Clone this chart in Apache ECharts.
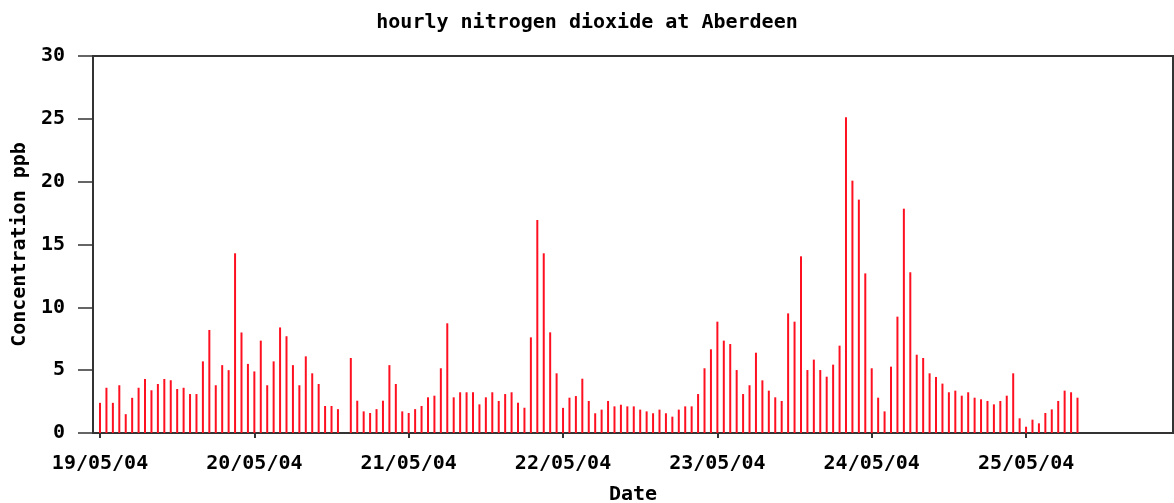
<!DOCTYPE html>
<html>
<head>
<meta charset="utf-8">
<title>hourly nitrogen dioxide at Aberdeen</title>
<script src="https://cdn.jsdelivr.net/npm/echarts@6/dist/echarts.min.js"></script>
<style>
    html, body { margin: 0; padding: 0; background: #fff; }
    #chart { width: 1174px; height: 503px; }
</style>
</head>
<body>
<div id="chart"></div>
<script>
// hours counted from 19/05/04 00:00
const dayTicks = [0, 24, 48, 72, 96, 120, 144];
const dayLabels = ['19/05/04', '20/05/04', '21/05/04', '22/05/04', '23/05/04', '24/05/04', '25/05/04'];
const yTicks = [0, 5, 10, 15, 20, 25, 30];

// hourly NO2 (ppb), one array per day
const day19 = [2.4, 3.6, 2.4, 3.8, 1.5, 2.8, 3.6, 4.3, 3.4, 3.9, 4.3, 4.2, 3.5, 3.6, 3.1, 3.1, 5.7, 8.2, 3.8, 5.4, 5.0, 14.3, 8.0, 5.5];
const day20 = [4.9, 7.35, 3.8, 5.7, 8.4, 7.7, 5.4, 3.8, 6.1, 4.75, 3.9, 2.15, 2.15, 1.9, 0, 5.97, 2.57, 1.72, 1.59, 1.9, 2.57, 5.4, 3.9, 1.72];
const day21 = [1.59, 1.9, 2.15, 2.84, 2.97, 5.15, 8.73, 2.84, 3.24, 3.24, 3.24, 2.28, 2.84, 3.24, 2.55, 3.1, 3.24, 2.41, 2.01, 7.61, 16.95, 14.3, 8.01, 4.75];
const day22 = [2.0, 2.81, 2.94, 4.32, 2.55, 1.57, 1.86, 2.55, 2.12, 2.25, 2.12, 2.12, 1.86, 1.72, 1.57, 1.86, 1.57, 1.3, 1.86, 2.12, 2.12, 3.1, 5.15, 6.66];
const day23 = [8.86, 7.35, 7.08, 5.01, 3.1, 3.8, 6.39, 4.19, 3.37, 2.84, 2.55, 9.52, 8.86, 14.06, 5.01, 5.84, 5.01, 4.48, 5.44, 6.95, 25.12, 20.08, 18.57, 12.7];
const day24 = [5.15, 2.81, 1.72, 5.28, 9.26, 17.85, 12.79, 6.23, 5.97, 4.75, 4.46, 3.93, 3.24, 3.37, 2.97, 3.24, 2.81, 2.68, 2.55, 2.28, 2.55, 2.97, 4.75, 1.17];
const day25 = [0.5, 1.06, 0.77, 1.59, 1.88, 2.55, 3.37, 3.24, 2.81];

(function () {
    let values = [].concat(day19, day20, day21, day22, day23, day24, day25);
    let data = values.map(function (v, i) { return [i, v]; });

    let font = 'DejaVu Sans Mono';
    let myChart = echarts.init(document.getElementById('chart'));
    let option = {
        animation: false,
        title: {
            text: 'hourly nitrogen dioxide at Aberdeen',
            left: 'center',
            top: 8,
            textStyle: { fontFamily: font, fontSize: 20, fontWeight: 'bold', color: '#000' }
        },
        grid: {
            left: 93,
            top: 56,
            right: 1,
            bottom: 70,
            outerBoundsMode: 'none',  // v6: keep the grid where it is put
            show: true,
            borderColor: '#333',
            borderWidth: 2
        },
        xAxis: {
            type: 'value',
            min: -1.09,
            max: 166.85,
            name: 'Date',
            nameLocation: 'middle',
            nameGap: 52,
            nameTextStyle: { fontFamily: font, fontSize: 20, fontWeight: 'bold', color: '#000' },
            splitLine: { show: false },
            axisLine: { onZero: false, lineStyle: { color: '#333', width: 2 } },
            axisTick: { customValues: dayTicks, length: 5, lineStyle: { color: '#333', width: 2 } },
            axisLabel: {
                customValues: dayTicks,
                margin: 21,
                fontFamily: font, fontSize: 20, fontWeight: 'bold', color: '#000',
                formatter: function (v) { return dayLabels[dayTicks.indexOf(v)]; }
            }
        },
        yAxis: {
            type: 'value',
            min: yTicks[0],
            max: yTicks[yTicks.length - 1],
            interval: 5,
            name: 'Concentration ppb',
            nameLocation: 'middle',
            nameGap: 62,
            nameTextStyle: { fontFamily: font, fontSize: 20, fontWeight: 'bold', color: '#000' },
            splitLine: { show: false },
            axisLine: { onZero: false, lineStyle: { color: '#333', width: 2 } },
            axisTick: { length: 15, lineStyle: { color: '#333', width: 1.5 } },
            axisLabel: { margin: 28, fontFamily: font, fontSize: 20, fontWeight: 'bold', color: '#000' }
        },
        series: [
            {
                type: 'bar',
                barWidth: 2,
                data: data,
                itemStyle: { color: '#ff1020' }
            }
        ]
    };
    myChart.setOption(option);
})()
</script>
</body>
</html>
